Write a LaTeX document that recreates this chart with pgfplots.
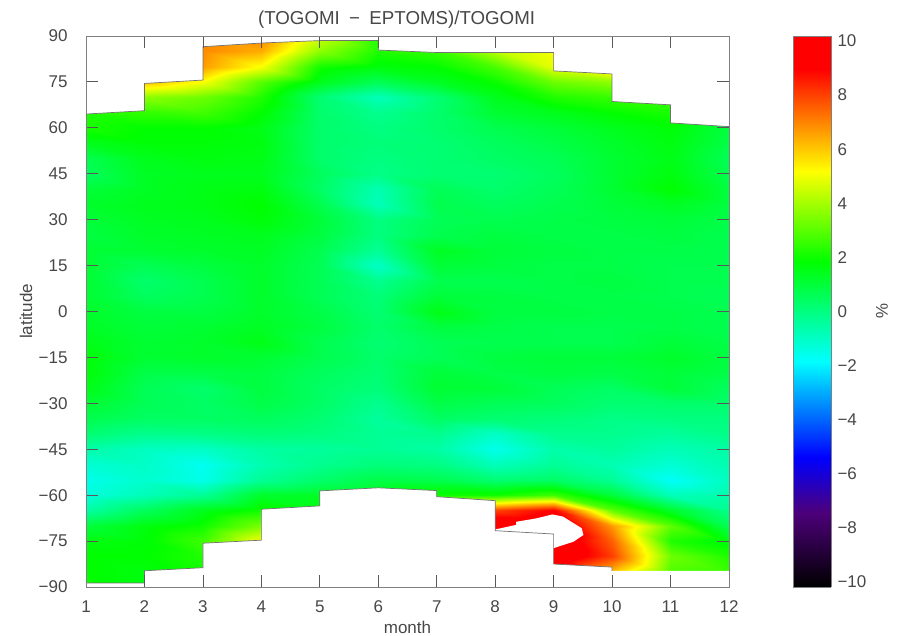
\documentclass[border=0pt]{standalone}
\usepackage{fontspec}
\setmainfont{Liberation Sans}
\usepackage{pgfplots}
\pgfplotsset{compat=1.18}
\definecolor{ink}{gray}{0.28}
\pgfplotsset{
  colormap={togomi}{rgb(0pt)=(0,0,0); rgb(27pt)=(0.3,0,0.48); rgb(47pt)=(0,0,1); rgb(82pt)=(0,1,1); rgb(118pt)=(0,1,0); rgb(151pt)=(1,1,0); rgb(188pt)=(1,0,0); rgb(200pt)=(1,0,0)},
}
\begin{document}
\begin{tikzpicture}
\useasboundingbox (0,0) rectangle (900bp,636bp);
\begin{axis}[
  at={(86bp,49bp)}, anchor=south west, width=643bp, height=551bp, scale only axis,
  xmin=1, xmax=12, ymin=-90, ymax=90, view={0}{90},
  xtick=\empty, ytick=\empty, axis line style={draw=none},
  colormap name=togomi,
  point meta min=-10, point meta max=10,
]
\addplot3[surf, shader=interp, mesh/ordering=y varies, mesh/cols=12, mesh/rows=37] coordinates {
(1,90,2.5)(1,85,2.5)(1,80,2.5)(1,75,2.5)(1,70,2.4)(1,65,2.2)(1,60,2.1)(1,55,1.4)(1,50,0.7)(1,45,0.5)(1,40,1.0)(1,35,1.2)(1,30,1.0)(1,25,0.9)(1,20,1.1)(1,15,1.1)(1,10,1.1)(1,5,1.1)(1,0,1.2)(1,-5,1.3)(1,-10,1.5)(1,-15,1.7)(1,-20,1.7)(1,-25,1.5)(1,-30,1.1)(1,-35,0.7)(1,-40,0.2)(1,-45,-0.6)(1,-50,-1.2)(1,-55,-1.5)(1,-60,-1.3)(1,-65,-0.5)(1,-70,1.0)(1,-75,1.6)(1,-80,1.8)(1,-85,1.8)(1,-90,2.0)
(2,90,6)(2,85,6)(2,80,6)(2,75,6)(2,70,3.6)(2,65,2.4)(2,60,1.8)(2,55,1.7)(2,50,1.4)(2,45,1.3)(2,40,1.3)(2,35,1.4)(2,30,1.3)(2,25,1.2)(2,20,1.1)(2,15,0.6)(2,10,0.3)(2,5,0.5)(2,0,0.9)(2,-5,1.0)(2,-10,1.1)(2,-15,1.1)(2,-20,0.8)(2,-25,0.6)(2,-30,0.6)(2,-35,0.4)(2,-40,-0.2)(2,-45,-0.9)(2,-50,-1.0)(2,-55,-1.1)(2,-60,-0.8)(2,-65,0.5)(2,-70,1.6)(2,-75,1.7)(2,-80,1.8)(2,-85,1.6)(2,-90,1.6)
(3,90,6.8)(3,85,6.8)(3,80,6.5)(3,75,5.0)(3,70,3.2)(3,65,2.6)(3,60,1.8)(3,55,1.7)(3,50,1.6)(3,45,1.4)(3,40,1.5)(3,35,1.5)(3,30,1.4)(3,25,1.3)(3,20,1.2)(3,15,0.9)(3,10,0.7)(3,5,0.7)(3,0,0.9)(3,-5,1.1)(3,-10,1.2)(3,-15,1.2)(3,-20,0.8)(3,-25,0.3)(3,-30,0.4)(3,-35,0.4)(3,-40,-0.1)(3,-45,-1.0)(3,-50,-1.6)(3,-55,-1.5)(3,-60,-0.3)(3,-65,1.4)(3,-70,2.0)(3,-75,2.6)(3,-80,2.2)(3,-85,2.0)(3,-90,2.0)
(4,90,7.0)(4,85,6.3)(4,80,5.0)(4,75,2.9)(4,70,2.2)(4,65,1.8)(4,60,1.5)(4,55,1.6)(4,50,1.5)(4,45,1.4)(4,40,1.6)(4,35,1.8)(4,30,1.7)(4,25,1.4)(4,20,1.3)(4,15,1.2)(4,10,1.2)(4,5,1.2)(4,0,1.2)(4,-5,1.3)(4,-10,1.5)(4,-15,1.1)(4,-20,0.9)(4,-25,0.9)(4,-30,0.8)(4,-35,0.5)(4,-40,0.1)(4,-45,-0.5)(4,-50,-0.7)(4,-55,-0.3)(4,-60,1.2)(4,-65,2.0)(4,-70,3.4)(4,-75,5.0)(4,-80,4.0)(4,-85,3.0)(4,-90,3.0)
(5,90,4.5)(5,85,3.6)(5,80,2.0)(5,75,1.4)(5,70,0.2)(5,65,0.3)(5,60,0.3)(5,55,0.3)(5,50,0.3)(5,45,0.5)(5,40,0.4)(5,35,0.7)(5,30,1.0)(5,25,0.9)(5,20,0.7)(5,15,0.6)(5,10,0.6)(5,5,0.6)(5,0,0.8)(5,-5,0.9)(5,-10,0.7)(5,-15,0.7)(5,-20,0.5)(5,-25,0.4)(5,-30,0.4)(5,-35,0.2)(5,-40,0.0)(5,-45,-0.4)(5,-50,-0.2)(5,-55,0.3)(5,-60,1.3)(5,-65,1.6)(5,-70,1.6)(5,-75,1.6)(5,-80,1.6)(5,-85,1.6)(5,-90,1.6)
(6,90,2.2)(6,85,2.2)(6,80,1.6)(6,75,0.6)(6,70,-0.8)(6,65,-0.2)(6,60,0.0)(6,55,0.1)(6,50,0.0)(6,45,-0.1)(6,40,-0.7)(6,35,-0.8)(6,30,0.0)(6,25,0.0)(6,20,-0.3)(6,15,-1.0)(6,10,-0.2)(6,5,0.1)(6,0,0.2)(6,-5,0.3)(6,-10,0.2)(6,-15,0.3)(6,-20,0.2)(6,-25,0.1)(6,-30,-0.2)(6,-35,-0.4)(6,-40,-0.3)(6,-45,-0.3)(6,-50,0.1)(6,-55,0.8)(6,-60,1.4)(6,-65,1.5)(6,-70,1.5)(6,-75,1.5)(6,-80,1.5)(6,-85,1.5)(6,-90,1.5)
(7,90,2.6)(7,85,2.5)(7,80,1.8)(7,75,1.3)(7,70,0.2)(7,65,0.3)(7,60,0.3)(7,55,0.2)(7,50,0.2)(7,45,0.2)(7,40,0.6)(7,35,0.7)(7,30,0.6)(7,25,0.7)(7,20,1.3)(7,15,1.0)(7,10,0.7)(7,5,1.0)(7,0,1.5)(7,-5,0.9)(7,-10,0.6)(7,-15,0.6)(7,-20,1.0)(7,-25,1.1)(7,-30,0.8)(7,-35,0.4)(7,-40,-0.2)(7,-45,-0.5)(7,-50,0.0)(7,-55,0.7)(7,-60,2.0)(7,-65,2.5)(7,-70,2.5)(7,-75,2.5)(7,-80,2.5)(7,-85,2.5)(7,-90,2.5)
(8,90,4.2)(8,85,4.2)(8,80,2.7)(8,75,1.9)(8,70,1.4)(8,65,1.1)(8,60,0.7)(8,55,0.5)(8,50,0.4)(8,45,0.2)(8,40,0.3)(8,35,0.5)(8,30,0.7)(8,25,0.9)(8,20,1.0)(8,15,0.9)(8,10,0.7)(8,5,0.9)(8,0,0.9)(8,-5,0.8)(8,-10,0.7)(8,-15,0.9)(8,-20,0.8)(8,-25,1.0)(8,-30,0.6)(8,-35,0.2)(8,-40,-1.0)(8,-45,-1.5)(8,-50,-0.8)(8,-55,0.2)(8,-60,2.0)(8,-65,7.8)(8,-70,10)(8,-75,10)(8,-80,10)(8,-85,10)(8,-90,10)
(9,90,5.0)(9,85,5.0)(9,80,4.8)(9,75,3.2)(9,70,2.2)(9,65,1.4)(9,60,1.0)(9,55,0.8)(9,50,0.6)(9,45,0.5)(9,40,0.6)(9,35,0.7)(9,30,0.8)(9,25,0.8)(9,20,0.9)(9,15,0.8)(9,10,0.8)(9,5,0.8)(9,0,0.9)(9,-5,0.7)(9,-10,0.7)(9,-15,1.0)(9,-20,0.9)(9,-25,0.6)(9,-30,0.5)(9,-35,0.1)(9,-40,-0.2)(9,-45,-0.6)(9,-50,-0.3)(9,-55,0.4)(9,-60,2.6)(9,-65,8.8)(9,-70,10)(9,-75,10)(9,-80,10)(9,-85,9.5)(9,-90,9.0)
(10,90,6.0)(10,85,6.0)(10,80,6.0)(10,75,3.6)(10,70,2.5)(10,65,1.8)(10,60,1.4)(10,55,1.2)(10,50,1.1)(10,45,1.1)(10,40,1.1)(10,35,1.0)(10,30,0.9)(10,25,0.8)(10,20,0.8)(10,15,0.8)(10,10,0.9)(10,5,0.8)(10,0,0.8)(10,-5,0.7)(10,-10,0.7)(10,-15,1.0)(10,-20,0.8)(10,-25,0.4)(10,-30,0.2)(10,-35,-0.1)(10,-40,-0.2)(10,-45,-0.4)(10,-50,-0.7)(10,-55,-0.3)(10,-60,1.0)(10,-65,3.0)(10,-70,6.6)(10,-75,7.4)(10,-80,7.9)(10,-85,6.0)(10,-90,6.0)
(11,90,3.0)(11,85,3.0)(11,80,3.0)(11,75,3.0)(11,70,2.6)(11,65,2.1)(11,60,1.7)(11,55,1.6)(11,50,1.5)(11,45,1.6)(11,40,1.8)(11,35,1.3)(11,30,1.0)(11,25,0.9)(11,20,0.8)(11,15,0.7)(11,10,0.7)(11,5,0.7)(11,0,0.8)(11,-5,0.8)(11,-10,1.0)(11,-15,1.2)(11,-20,1.0)(11,-25,1.0)(11,-30,0.3)(11,-35,0.0)(11,-40,-0.4)(11,-45,-0.8)(11,-50,-1.2)(11,-55,-1.7)(11,-60,-0.8)(11,-65,1.2)(11,-70,3.0)(11,-75,2.2)(11,-80,3.2)(11,-85,2.8)(11,-90,2.8)
(12,90,1.9)(12,85,1.9)(12,80,1.9)(12,75,1.9)(12,70,1.9)(12,65,1.7)(12,60,0.9)(12,55,0.8)(12,50,0.6)(12,45,0.7)(12,40,0.9)(12,35,0.9)(12,30,0.8)(12,25,0.7)(12,20,0.7)(12,15,0.7)(12,10,0.7)(12,5,0.6)(12,0,0.7)(12,-5,0.7)(12,-10,0.8)(12,-15,0.9)(12,-20,0.8)(12,-25,0.5)(12,-30,0.3)(12,-35,0.0)(12,-40,-0.1)(12,-45,-0.5)(12,-50,-0.7)(12,-55,-0.9)(12,-60,-0.6)(12,-65,-0.2)(12,-70,0.6)(12,-75,1.6)(12,-80,2.2)(12,-85,2.5)(12,-90,2.5)
};
\end{axis}
\begin{axis}[
  at={(86bp,49bp)}, anchor=south west, width=643bp, height=551bp, scale only axis,
  xmin=1, xmax=12, ymin=-90, ymax=90, axis on top,
  xtick={1,...,12}, xticklabels={1,2,3,4,5,6,7,8,9,10,11,12},
  ytick={-90,-75,-60,-45,-30,-15,0,15,30,45,60,75,90},
  yticklabels={−90,−75,−60,−45,−30,−15,0,15,30,45,60,75,90},
  tick align=inside, xtick pos=both, ytick pos=both, major tick length=12bp,
  tick style={black!65, line width=0.8bp},
  axis line style={black!50, line width=0.9bp},
  xticklabel pos=bottom, yticklabel pos=left,
  ticklabel style={font=\fontsize{17bp}{20bp}\selectfont, text=ink},
  xticklabel style={yshift=-10bp},
  yticklabel style={xshift=-15bp},
  title={(TOGOMI\enspace −\enspace EPTOMS)/TOGOMI},
  title style={font=\fontsize{18.7bp}{20bp}\selectfont, text=ink, at={(axis description cs:0.483,1)}, yshift=-2bp},
  xlabel={month}, ylabel={latitude},
  xlabel style={font=\fontsize{17bp}{20bp}\selectfont, text=ink, at={(axis description cs:0.5,-0.0726)}, anchor=center},
  ylabel style={font=\fontsize{17bp}{20bp}\selectfont, text=ink, at={(axis description cs:-0.0933,0.5)}, anchor=center},
]
\addplot[fill=white, draw=none] coordinates {(1,64.5)(2,65.6)(2,74.5)(3,75.6)(3,86.5)(4,87.7)(5,88.5)(6,88.5)(6,85.4)(7,84.6)(8,84.6)(9,84.6)(9,78.6)(10,77.6)(10,68.6)(11,67.5)(11,61.6)(12,60.4)(12,90)(1,90)} -- cycle;
\addplot[fill=white, draw=none] coordinates {(1,-88.7)(2,-88.7)(2,-84.7)(3,-83.7)(3,-75.7)(4,-74.7)(4,-64.6)(5,-63.5)(5,-58.6)(6,-57.6)(7,-58.5)(7,-60.5)(8,-61.8)(8,-71.2)(8.36,-69.7)(8.36,-68.7)(8.7,-67.6)(8.98,-66.3)(9.16,-67)(9.48,-70.8)(9.51,-73)(9.34,-75.2)(9,-77.3)(9,-82.5)(10,-83.5)(10,-84.7)(11,-84.7)(12,-84.7)(12,-90)(1,-90)} -- cycle;
\addplot[black!55, line width=0.7bp] coordinates {(1,64.5)(2,65.6)(2,74.5)(3,75.6)(3,86.5)(4,87.7)(5,88.5)(6,88.5)(6,85.4)(7,84.6)(8,84.6)(9,84.6)(9,78.6)(10,77.6)(10,68.6)(11,67.5)(11,61.6)(12,60.4)};
\addplot[black!55, line width=0.7bp] coordinates {(1,-88.7)(2,-88.7)(2,-84.7)(3,-83.7)(3,-75.7)(4,-74.7)(4,-64.6)(5,-63.5)(5,-58.6)(6,-57.6)(7,-58.5)(7,-60.5)(8,-61.8)(8,-71.6)(9,-72.7)(9,-82.5)(10,-83.5)(10,-84.7)};
\end{axis}
\begin{axis}[
  at={(793bp,49bp)}, anchor=south west, width=38bp, height=551bp, scale only axis,
  xmin=0, xmax=1, ymin=-10, ymax=10, view={0}{90}, axis on top,
  colormap name=togomi, point meta min=-10, point meta max=10,
  xtick=\empty, ytick pos=right, ytick align=outside, major tick length=0pt,
  ytick={-9.82,-7.86,-5.89,-3.93,-1.96,0,1.96,3.93,5.89,7.86,9.82},
  yticklabels={−10,−8,−6,−4,−2,0,2,4,6,8,10},
  yticklabel style={font=\fontsize{17bp}{20bp}\selectfont, text=ink, xshift=3bp},
  axis line style={black!50, line width=0.7bp},
  ylabel={\%}, ylabel style={font=\fontsize{17bp}{20bp}\selectfont, text=ink, at={(axis description cs:2.34,0.5)}, anchor=center, rotate=180},
]
\addplot3[surf, shader=interp, mesh/ordering=x varies, mesh/cols=2, mesh/rows=21] coordinates {
(0,-10,-10)(1,-10,-10)(0,-9,-9)(1,-9,-9)(0,-8,-8)(1,-8,-8)(0,-7,-7)(1,-7,-7)(0,-6,-6)(1,-6,-6)(0,-5,-5)(1,-5,-5)(0,-4,-4)(1,-4,-4)(0,-3,-3)(1,-3,-3)(0,-2,-2)(1,-2,-2)(0,-1,-1)(1,-1,-1)(0,0,0)(1,0,0)(0,1,1)(1,1,1)(0,2,2)(1,2,2)(0,3,3)(1,3,3)(0,4,4)(1,4,4)(0,5,5)(1,5,5)(0,6,6)(1,6,6)(0,7,7)(1,7,7)(0,8,8)(1,8,8)(0,9,9)(1,9,9)(0,10,10)(1,10,10)
};
\end{axis}
\end{tikzpicture}
\end{document}
